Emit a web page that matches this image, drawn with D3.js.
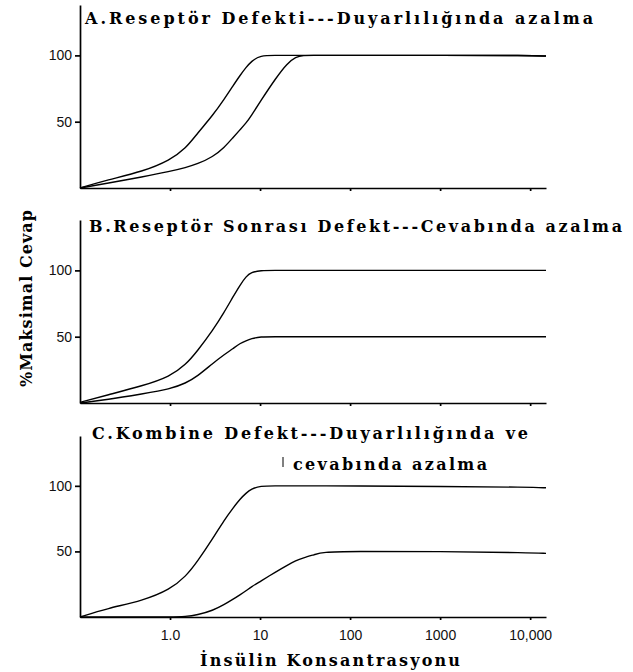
<!DOCTYPE html>
<html lang="tr">
  <head>
    <meta charset="UTF-8" />
    <title>İnsülin Konsantrasyonu</title>
    <style>
      body { margin: 0; background: #fff; }
      .axis path,
      .axis line {
        fill: none;
        stroke: #000;
        stroke-width: 1.7;
      }
      .axis text {
        font-family: 'Liberation Sans', Arial, sans-serif;
        font-size: 14px;
        fill: #111;
      }
      .ttl {
        font-family: 'DejaVu Serif', serif;
        font-weight: bold;
        font-size: 16px;
        fill: #000;
      }
      .curve {
        fill: none;
        stroke: #000;
        stroke-width: 1.4;
      }
    </style>
    <script src="https://d3js.org/d3.v7.min.js"></script>
  </head>
  <body>
    <svg width="633" height="672"></svg>
    <script>
      // insülin konsantrasyonu (log eksen)
      var conc = [0.1, 0.2, 0.5, 1, 1.5, 2, 3, 4, 5, 6, 7, 8, 10, 15, 20, 25, 30, 40, 50, 100, 1000, 10000, 15000]

      // A. reseptör defekti
      var normalA = [0, 6, 12.5, 21, 30, 41, 55, 67, 77, 85, 91, 95.5, 100, 100, 100, 100, 100, 100, 100, 100, 100, 100, 99.5]
      var defektA = [0, 3.5, 8.5, 12.5, 15.5, 18, 23.5, 30.5, 38, 44, 49, 54.5, 65, 83, 94, 99, 100, 100, 100, 100, 100, 100, 99.5]
      // B. reseptör sonrası defekt
      var normalB = [0.5, 6, 13, 20, 29, 39, 55, 68.5, 80, 89, 95.5, 98.5, 100, 100, 100, 100, 100, 100, 100, 100, 100, 100, 100]
      var defektB = [0, 2.5, 7, 10.5, 15, 20, 30, 36.5, 41, 45, 47, 48.5, 50, 50, 50, 50, 50, 50, 50, 50, 50, 50, 50]
      // C. kombine defekt
      var normalC = [0, 6.5, 12.5, 21, 31, 42, 60, 74, 83, 90, 94.5, 97.5, 100, 100, 100, 100, 100, 100, 100, 100, 99.5, 99, 98.5]
      var defektC = [0, 0, 0, 0, 0.3, 1.5, 5, 9.5, 13.5, 17, 20, 23, 27, 34.5, 39.5, 43, 45, 47.5, 49.5, 50, 50, 49, 48.5]

      var xTicks = [1, 10, 100, 1000, 10000]
      var xTickLabels = ['1.0', '10', '100', '1000', '10,000']
      var yTicks = [50, 100]

      var titleA = ['A.Reseptör Defekti---Duyarlılığında azalma']
      var titleB = ['B.Reseptör Sonrası Defekt---Cevabında azalma']
      var titleC = ['C.Kombine Defekt---Duyarlılığında ve', 'cevabında azalma']

      var panels = [
        { title: titleA, series: [normalA, defektA], y0: 188, top: 5, tx: [85], ty: [24], tw: [508], labels: false },
        { title: titleB, series: [normalB, defektB], y0: 403, top: 220, tx: [89], ty: [232], tw: [533], labels: false },
        { title: titleC, series: [normalC, defektC], y0: 617, top: 436, tx: [92, 293], ty: [439, 470], tw: [436, 194], labels: true }
      ]

      var svg = d3.select('svg')
      svg.append('rect').attr('width', 633).attr('height', 672).attr('fill', '#fff')

      var x = d3.scaleLog().domain([0.1, 15000]).range([80, 546])

      panels.forEach(function(p) {
        var y = d3.scaleLinear().domain([0, 138]).range([p.y0, p.top])
        var g = svg.append('g')

        var line = d3
          .line()
          .x(function(d) { return x(d[0]) })
          .y(function(d) { return y(d[1]) })
          .curve(d3.curveBasis)

        p.series.forEach(function(vals) {
          g.append('path')
            .attr('class', 'curve')
            .attr('d', line(conc.map(function(c, i) { return [c, vals[i]] })))
        })

        var xAxis = d3
          .axisBottom(x)
          .tickValues(xTicks)
          .tickSize(3)
          .tickSizeOuter(0)
          .tickPadding(10)
          .tickFormat(function(d, i) { return p.labels ? xTickLabels[i] : '' })
        g.append('g')
          .attr('class', 'axis')
          .attr('transform', 'translate(0,' + p.y0 + ')')
          .call(xAxis)

        var yAxis = d3.axisLeft(y).tickValues(yTicks).tickSize(5).tickSizeOuter(0).tickPadding(3)
        g.append('g')
          .attr('class', 'axis')
          .attr('transform', 'translate(80,0)')
          .call(yAxis)

        p.title.forEach(function(t, i) {
          g.append('text')
            .attr('class', 'ttl')
            .attr('x', p.tx[i])
            .attr('y', p.ty[i])
            .attr('textLength', p.tw[i])
            .attr('lengthAdjust', 'spacing')
            .text(t)
        })
      })

      // daktilo izi
      svg.append('line')
        .attr('x1', 283).attr('x2', 283)
        .attr('y1', 457).attr('y2', 467)
        .attr('stroke', '#000').attr('stroke-width', 1)

      svg.append('text')
        .attr('class', 'ttl')
        .attr('transform', 'translate(32,387) rotate(-90)')
        .attr('textLength', 177)
        .attr('lengthAdjust', 'spacing')
        .text('%Maksimal Cevap')

      svg.append('text')
        .attr('class', 'ttl')
        .attr('x', 200)
        .attr('y', 666)
        .attr('textLength', 260)
        .attr('lengthAdjust', 'spacing')
        .text('İnsülin Konsantrasyonu')
    </script>
  </body>
</html>
